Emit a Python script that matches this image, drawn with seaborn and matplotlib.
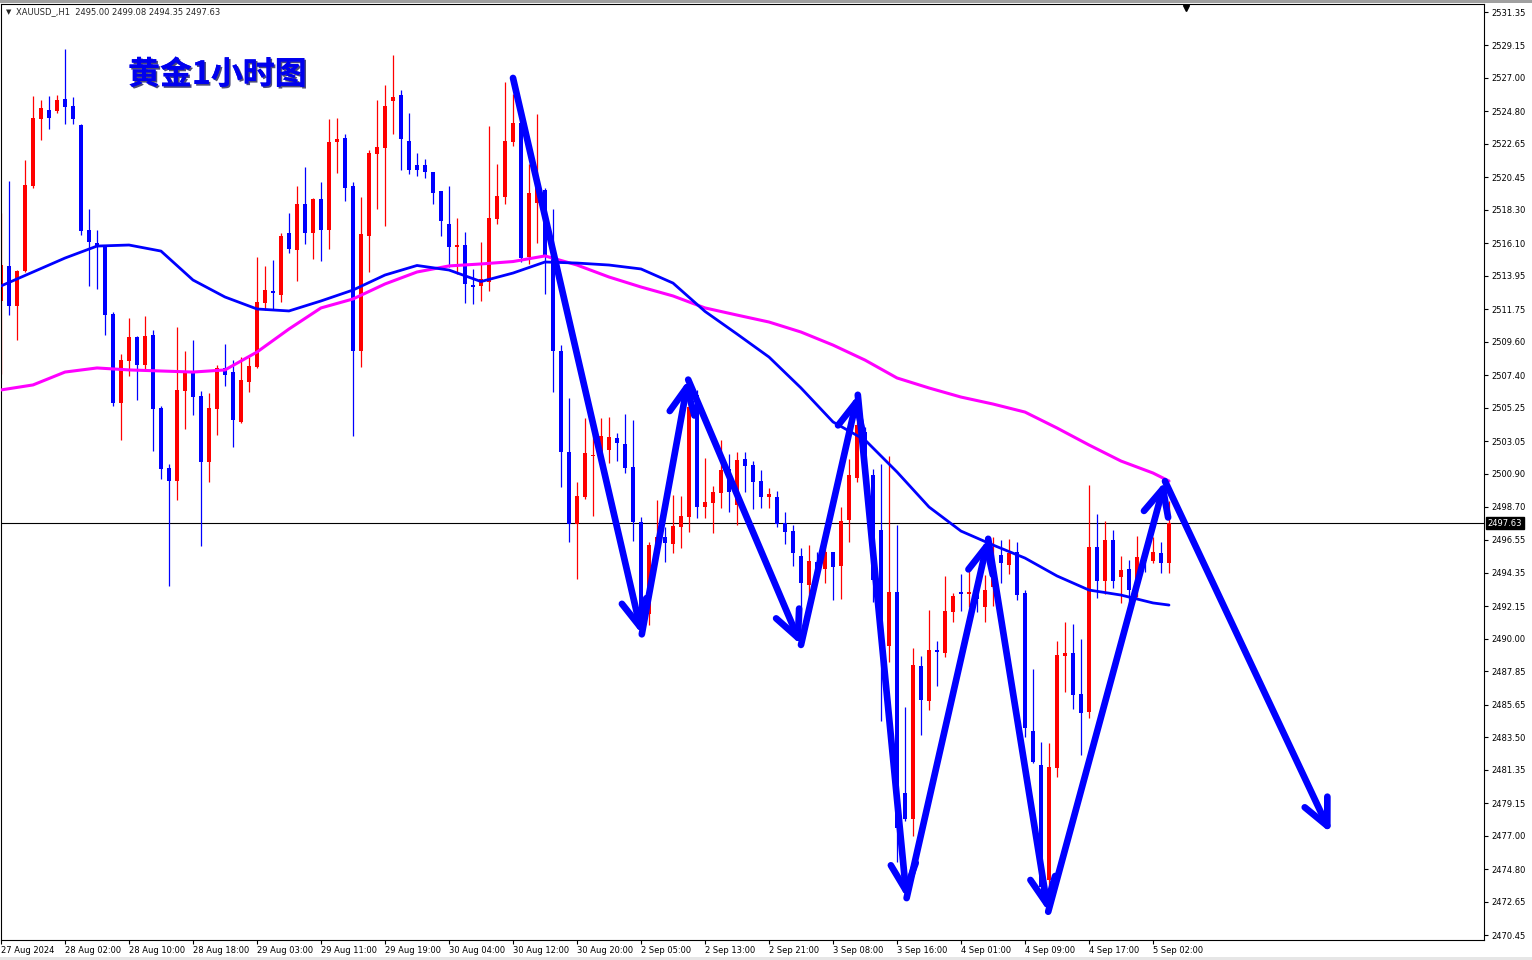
import numpy as np
import pandas as pd
import matplotlib
matplotlib.use('Agg')
import matplotlib.pyplot as plt
import matplotlib.patheffects as pe
from matplotlib.patches import Rectangle
import seaborn as sns

# ------------------------------------------------------------
# data: XAUUSD H1 candles
# ------------------------------------------------------------
open_ = [2512.30, 2514.59, 2511.95, 2514.24, 2519.84, 2524.32, 2524.88, 2524.79, 2525.61, 2525.14,
         2523.89, 2516.97, 2516.12, 2515.84, 2511.43, 2505.59, 2508.35, 2509.90, 2508.06, 2510.04,
         2505.24, 2501.28, 2500.41, 2506.35, 2507.54, 2506.02, 2501.67, 2505.16, 2507.87, 2507.60,
         2504.30, 2506.94, 2507.93, 2512.16, 2512.95, 2512.68, 2516.77, 2515.65, 2518.68, 2516.77,
         2519.01, 2516.97, 2522.77, 2523.04, 2519.87, 2508.99, 2516.57, 2521.98, 2522.38, 2525.48,
         2525.88, 2522.85, 2521.26, 2521.26, 2520.80, 2519.55, 2517.35, 2515.85, 2515.99, 2513.30,
         2513.27, 2513.53, 2517.70, 2519.15, 2522.77, 2524.03, 2515.19, 2518.75, 2519.60, 2515.32,
         2508.96, 2502.33, 2497.56, 2499.35, 2502.06, 2502.26, 2502.46, 2503.25, 2502.85, 2501.34,
         2497.71, 2491.64, 2496.26, 2496.72, 2496.26, 2497.38, 2498.04, 2506.09, 2498.70, 2498.96,
         2499.62, 2501.20, 2498.83, 2501.86, 2501.47, 2500.41, 2499.36, 2499.36, 2497.64, 2497.11,
         2495.49, 2493.56, 2495.08, 2494.58, 2495.76, 2494.81, 2497.81, 2500.60, 2503.67, 2500.83,
         2497.19, 2489.54, 2493.10, 2479.82, 2478.12, 2488.22, 2485.88, 2489.25, 2489.09, 2491.79,
         2493.06, 2492.99, 2493.30, 2492.10, 2493.45, 2495.53, 2494.87, 2495.73, 2493.03, 2483.92,
         2481.68, 2474.10, 2481.48, 2488.87, 2489.07, 2486.36, 2485.18, 2496.06, 2493.82, 2496.52,
         2494.08, 2494.61, 2493.82, 2495.27, 2495.14, 2495.66, 2495.00]
high = [2518.07, 2520.19, 2514.31, 2521.61, 2525.80, 2525.57, 2525.80, 2525.90, 2528.91, 2525.73,
        2523.95, 2518.36, 2516.97, 2515.95, 2511.55, 2508.77, 2511.17, 2509.95, 2511.31, 2510.37,
        2505.35, 2501.51, 2510.54, 2508.99, 2509.71, 2506.35, 2506.22, 2508.07, 2509.45, 2508.39,
        2508.59, 2508.59, 2515.19, 2514.60, 2514.99, 2516.77, 2518.09, 2519.87, 2521.13, 2519.08,
        2520.14, 2524.29, 2524.36, 2523.30, 2520.14, 2519.15, 2522.25, 2525.55, 2526.53, 2528.51,
        2526.20, 2524.66, 2522.05, 2521.64, 2520.80, 2519.55, 2519.85, 2517.74, 2516.87, 2514.42,
        2516.19, 2523.82, 2521.32, 2526.71, 2525.91, 2524.23, 2521.32, 2524.62, 2519.72, 2518.36,
        2509.39, 2505.91, 2500.36, 2504.57, 2504.57, 2504.57, 2504.64, 2503.58, 2504.83, 2504.44,
        2498.04, 2496.39, 2499.16, 2497.38, 2499.49, 2499.42, 2505.56, 2506.41, 2501.93, 2500.08,
        2503.12, 2502.20, 2502.33, 2502.33, 2501.73, 2501.14, 2499.95, 2499.75, 2498.37, 2497.51,
        2496.00, 2496.22, 2495.72, 2496.17, 2495.76, 2498.67, 2501.85, 2504.46, 2504.00, 2501.20,
        2501.51, 2502.08, 2497.54, 2485.51, 2489.40, 2488.90, 2491.90, 2489.86, 2494.13, 2493.04,
        2494.31, 2494.58, 2494.00, 2494.24, 2496.74, 2496.52, 2496.59, 2496.39, 2493.22, 2488.01,
        2483.20, 2483.13, 2489.86, 2491.11, 2490.98, 2489.99, 2500.15, 2498.24, 2497.77, 2497.18,
        2495.47, 2495.20, 2496.79, 2496.06, 2496.72, 2496.39, 2499.08]
low = [2507.47, 2511.36, 2509.71, 2514.19, 2519.72, 2522.90, 2523.66, 2524.67, 2523.96, 2523.96,
       2516.66, 2513.29, 2513.08, 2510.07, 2505.35, 2503.12, 2507.36, 2505.75, 2507.83, 2502.41,
       2500.52, 2493.46, 2499.18, 2503.84, 2504.77, 2496.13, 2500.35, 2503.45, 2506.68, 2502.66,
       2504.24, 2506.28, 2507.87, 2511.69, 2511.69, 2512.22, 2515.45, 2513.61, 2516.05, 2515.06,
       2514.93, 2515.72, 2520.73, 2518.88, 2503.38, 2507.93, 2514.20, 2518.36, 2517.23, 2523.30,
       2520.93, 2520.69, 2520.53, 2520.39, 2518.69, 2516.60, 2514.56, 2514.10, 2512.17, 2512.11,
       2512.29, 2512.97, 2517.39, 2518.69, 2522.51, 2514.86, 2514.73, 2516.11, 2512.73, 2506.28,
       2500.05, 2496.39, 2493.98, 2499.23, 2498.10, 2501.67, 2501.60, 2501.73, 2500.94, 2496.46,
       2490.45, 2490.91, 2495.99, 2495.07, 2495.66, 2495.99, 2497.05, 2497.97, 2497.97, 2496.98,
       2498.63, 2498.37, 2497.51, 2499.69, 2498.57, 2498.63, 2498.63, 2497.38, 2496.26, 2494.81,
       2491.20, 2492.54, 2494.01, 2493.67, 2492.54, 2492.65, 2496.40, 2500.37, 2500.40, 2492.43,
       2484.59, 2488.45, 2475.28, 2477.99, 2476.99, 2483.68, 2485.34, 2486.86, 2488.79, 2491.13,
       2491.86, 2492.08, 2491.80, 2491.13, 2492.20, 2493.68, 2494.28, 2492.56, 2483.53, 2481.81,
       2473.10, 2472.77, 2480.89, 2486.50, 2485.38, 2482.34, 2484.78, 2492.69, 2492.96, 2493.36,
       2492.37, 2491.38, 2492.76, 2494.41, 2495.00, 2494.35, 2494.35]
close = [2514.66, 2511.95, 2514.26, 2519.96, 2524.36, 2525.02, 2524.39, 2525.54, 2525.09, 2524.32,
         2516.90, 2516.19, 2515.84, 2511.36, 2505.59, 2508.37, 2509.90, 2508.06, 2509.99, 2505.19,
         2501.23, 2500.41, 2506.41, 2507.54, 2505.95, 2501.67, 2505.23, 2507.87, 2507.40, 2504.44,
         2507.08, 2508.00, 2512.22, 2513.01, 2512.82, 2516.57, 2515.72, 2518.68, 2516.77, 2519.01,
         2516.97, 2522.77, 2522.97, 2519.74, 2508.99, 2516.71, 2522.05, 2522.45, 2525.15, 2525.74,
         2522.97, 2520.96, 2520.96, 2520.80, 2519.44, 2517.58, 2515.85, 2515.99, 2513.38, 2513.24,
         2513.74, 2517.74, 2519.21, 2522.85, 2524.03, 2515.12, 2519.41, 2519.81, 2515.35, 2508.96,
         2502.31, 2497.56, 2499.43, 2502.27, 2502.13, 2503.38, 2503.32, 2502.92, 2501.27, 2497.71,
         2490.92, 2496.19, 2496.72, 2496.32, 2497.44, 2498.10, 2505.30, 2498.70, 2499.03, 2499.69,
         2501.14, 2499.69, 2501.80, 2501.40, 2500.35, 2499.36, 2499.56, 2497.58, 2497.05, 2495.66,
         2493.67, 2495.15, 2494.63, 2495.72, 2494.74, 2497.76, 2500.83, 2504.12, 2500.72, 2493.90,
         2489.58, 2493.10, 2477.54, 2478.12, 2488.28, 2485.95, 2489.25, 2489.13, 2491.86, 2492.84,
         2492.95, 2493.10, 2492.60, 2493.22, 2494.48, 2495.00, 2495.66, 2492.89, 2484.12, 2481.88,
         2473.63, 2481.55, 2488.94, 2489.07, 2486.30, 2485.11, 2496.06, 2493.82, 2496.52, 2493.82,
         2494.54, 2493.22, 2495.40, 2495.14, 2495.73, 2495.00, 2497.63]

# moving averages, read every 4 bars
ma_idx = list(range(0, 145, 4)) + [146]
ma_blue = [2513.28, 2514.20, 2515.12, 2515.91, 2515.98, 2515.58, 2513.67, 2512.55, 2511.76, 2511.63,
           2512.29, 2513.01, 2514.00, 2514.63, 2514.33, 2513.57, 2514.13, 2514.86, 2514.79, 2514.66,
           2514.40, 2513.47, 2511.60, 2510.11, 2508.59, 2506.55, 2504.31, 2503.12, 2501.01, 2498.70,
           2497.11, 2496.19, 2495.33, 2494.15, 2493.22, 2492.89, 2492.37, 2492.23]
ma_magenta = [2506.42, 2506.75, 2507.60, 2507.87, 2507.74, 2507.67, 2507.60, 2507.74, 2508.92, 2510.44,
              2511.83, 2512.42, 2513.41, 2514.20, 2514.60, 2514.73, 2514.89, 2515.26, 2514.66, 2513.87,
              2513.21, 2512.62, 2511.83, 2511.36, 2510.90, 2510.24, 2509.38, 2508.39, 2507.21, 2506.55,
              2505.95, 2505.49, 2504.96, 2503.91, 2502.79, 2501.73, 2500.94, 2500.41]

# zigzag arrows drawn on the chart (bar index, price)
arrow_pts = [(64.0, 2527.0), (80.1, 2490.3), (85.9, 2507.1), (100.0, 2489.6), (107.1, 2506.1),
             (113.2, 2472.9), (123.4, 2496.6), (130.9, 2472.0), (145.5, 2500.4), (166.2, 2477.2)]

x_tick_idx = list(range(0, 145, 8))
x_labels = ['27 Aug 2024', '28 Aug 02:00', '28 Aug 10:00', '28 Aug 18:00', '29 Aug 03:00',
            '29 Aug 11:00', '29 Aug 19:00', '30 Aug 04:00', '30 Aug 12:00', '30 Aug 20:00',
            '2 Sep 05:00', '2 Sep 13:00', '2 Sep 21:00', '3 Sep 08:00', '3 Sep 16:00',
            '4 Sep 01:00', '4 Sep 09:00', '4 Sep 17:00', '5 Sep 02:00']
y_ticks = [2531.35, 2529.15, 2527.00, 2524.80, 2522.65, 2520.45, 2518.30, 2516.10, 2513.95,
           2511.75, 2509.60, 2507.40, 2505.25, 2503.05, 2500.90, 2498.70, 2496.55, 2494.35,
           2492.15, 2490.00, 2487.85, 2485.65, 2483.50, 2481.35, 2479.15, 2477.00, 2474.80,
           2472.65, 2470.45]
last_price = 2497.63

df = pd.DataFrame({'open': open_, 'high': high, 'low': low, 'close': close})
df['i'] = np.arange(len(df))
ma_df = pd.DataFrame({'i': ma_idx, 'blue': ma_blue, 'magenta': ma_magenta})

# ------------------------------------------------------------
# figure
# ------------------------------------------------------------
sns.set_theme(style='white')
plt.rcParams['font.family'] = ['DejaVu Sans']

fig = plt.figure(figsize=(15.32, 9.6), dpi=100)
ax = fig.add_axes([1 / 1532, 20 / 960, 1483 / 1532, 936 / 960])

up = df['close'] >= df['open']
colors = np.where(up, '#ff0000', '#0000ff')

# candles: wicks and bodies
ax.vlines(df['i'], df['low'], df['high'], colors=colors, lw=0.9, zorder=2)
body_lo = np.minimum(df['open'], df['close'])
body_h = np.maximum((df['close'] - df['open']).abs(), 0.07)
ax.bar(df['i'], body_h, bottom=body_lo, width=0.62, color=colors, linewidth=0, zorder=2)

# moving averages
sns.lineplot(data=ma_df, x='i', y='magenta', color='#ff00ff', lw=2.2, ax=ax, zorder=3)
sns.lineplot(data=ma_df, x='i', y='blue', color='#0000ff', lw=2.0, ax=ax, zorder=3)

# last price line
ax.axhline(last_price, color='black', lw=0.8, zorder=1)

# zigzag arrows
for (x0, y0), (x1, y1) in zip(arrow_pts[:-1], arrow_pts[1:]):
    ax.annotate('', xy=(x1, y1), xytext=(x0, y0),
                arrowprops=dict(arrowstyle='->,head_length=0.95,head_width=0.45',
                                color='#0000ff', lw=4.8, mutation_scale=20,
                                shrinkA=0, shrinkB=0, capstyle='round',
                                joinstyle='round'),
                zorder=5)

ax.set_xlim(0, 185.375)
ax.set_ylim(2470.136, 2531.878)
ax.set_xlabel('')
ax.set_ylabel('')

# axes styling like the terminal
for s in ax.spines.values():
    s.set_color('black')
    s.set_linewidth(0.8)
ax.yaxis.tick_right()
ax.set_yticks(y_ticks)
ax.set_yticklabels([f'{v:.2f}' for v in y_ticks])
ax.tick_params(axis='y', right=True, labelright=True, left=False, labelleft=False,
               direction='out', length=3, width=0.8, pad=2, labelsize=6, colors='black')
ax.set_xticks(x_tick_idx)
ax.set_xticklabels(x_labels, ha='left')
ax.tick_params(axis='x', bottom=True, direction='out', length=3, width=0.8, pad=1,
               labelsize=6, colors='black')
ax.grid(False)

# price tag for last price
ax.text(1.0025, last_price, f'{last_price:.2f}', transform=ax.get_yaxis_transform(),
        fontsize=6, color='white', va='center', ha='left',
        bbox=dict(boxstyle='square,pad=0.2', fc='black', ec='black'))

# shift marker at top
ax.plot([148.1], [2531.6], marker='v', color='black', ms=5, clip_on=False, zorder=6)

# header and title
fig.text(6 / 1532, 1 - 12 / 960, '▼', fontsize=5, va='center', ha='left')
fig.text(16 / 1532, 1 - 12 / 960, 'XAUUSD_,H1  2495.00 2499.08 2494.35 2497.63',
         fontsize=6, va='center', ha='left')
fig.text(128 / 1532, 1 - 75 / 960, '黄金1小时图', fontsize=23, fontweight='bold',
         color='#0000ee', family=['Noto Sans CJK SC', 'DejaVu Sans'],
         va='center', ha='left',
         path_effects=[pe.withSimplePatchShadow(offset=(1.2, -1.2),
                                                shadow_rgbFace='#000040', alpha=0.7),
                       pe.Normal()])

# thin grey strips at the window edges
fig.add_artist(Rectangle((0, 1 - 3 / 960), 1, 3 / 960, transform=fig.transFigure,
                         color='#a0a0a0', lw=0))
fig.add_artist(Rectangle((0, 0), 1, 3 / 960, transform=fig.transFigure,
                         color='#e6e6e6', lw=0))

fig.savefig('out.png', dpi=100)
